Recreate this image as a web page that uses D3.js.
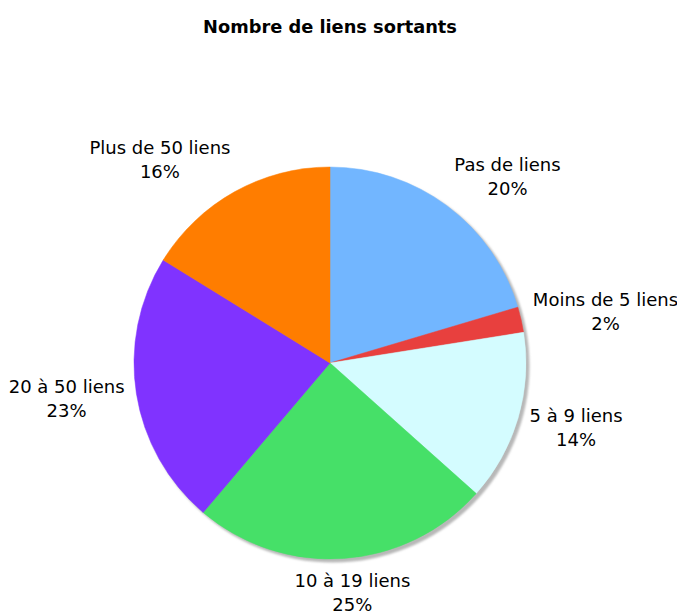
<!DOCTYPE html>
<html><head><meta charset="utf-8">
<script src="https://cdn.jsdelivr.net/npm/d3@7"></script>
<style>body{margin:0;background:#fff}svg{display:block}</style>
</head><body>
<script>
const title = "Nombre de liens sortants";
const categories = ["Pas de liens","Moins de 5 liens","5 à 9 liens","10 à 19 liens","20 à 50 liens","Plus de 50 liens"];
const values = [20.4, 2.1, 14.1, 24.6, 22.6, 16.2];
const colors = ["#72b6ff","#e8403e","#d4fcff","#46e068","#8033ff","#ff7d00"];

const W = 677, H = 613, cx = 330, cy = 363, R = 196;
const svg = d3.select("body").append("svg").attr("width", W).attr("height", H);
svg.append("text").attr("x", 330).attr("y", 33).attr("text-anchor", "middle")
  .attr("font-family", "DejaVu Sans, Verdana, sans-serif").attr("font-weight", "bold")
  .attr("font-size", 17.8).text(title);

const data = categories.map((c, i) => ({c, v: values[i], col: colors[i]}));
const pie = d3.pie().sort(null).value(d => d.v);
const arcs = pie(data);
const arc = d3.arc().innerRadius(0).outerRadius(R);

const defs = svg.append("defs");
defs.append("filter").attr("id", "blur").append("feGaussianBlur").attr("stdDeviation", 1.2);
svg.append("circle").attr("cx", cx + 3).attr("cy", cy + 3).attr("r", R + 0.5)
  .attr("fill", "#b8b8b8").attr("filter", "url(#blur)");

const g = svg.append("g").attr("transform", `translate(${cx},${cy})`);
g.selectAll("path").data(arcs).enter().append("path")
  .attr("d", arc).attr("fill", d => d.data.col).attr("stroke", d => d.data.col).attr("stroke-width", 0.5);

const total = d3.sum(values);
const LR = 208, lh = 24, fs = 18;
arcs.forEach(a => {
  const th = (a.startAngle + a.endAngle) / 2;
  const s = Math.sin(th), co = Math.cos(th);
  const px = LR * s, py = -LR * co;
  const lines = [a.data.c, Math.round(a.data.v / total * 100) + "%"];
  const t = g.append("text").attr("font-family", "DejaVu Sans, Verdana, sans-serif")
    .attr("font-size", fs).attr("text-anchor", "middle").attr("fill", "#000");
  lines.forEach((l, i) => t.append("tspan").attr("x", 0).attr("dy", i ? lh : 0).text(l));
  const bb = t.node().getBBox();
  const w = bb.width, h = lh * 2;
  const k = Math.max(-1, Math.min(1, s * 2));
  const bx = px + (w / 2) * k;
  const by = py - (h / 2) * co;
  t.attr("transform", `translate(${bx},${Math.min(by - h / 2 + 18, H - 2 - lh - cy)})`);
});
</script>
</body></html>
